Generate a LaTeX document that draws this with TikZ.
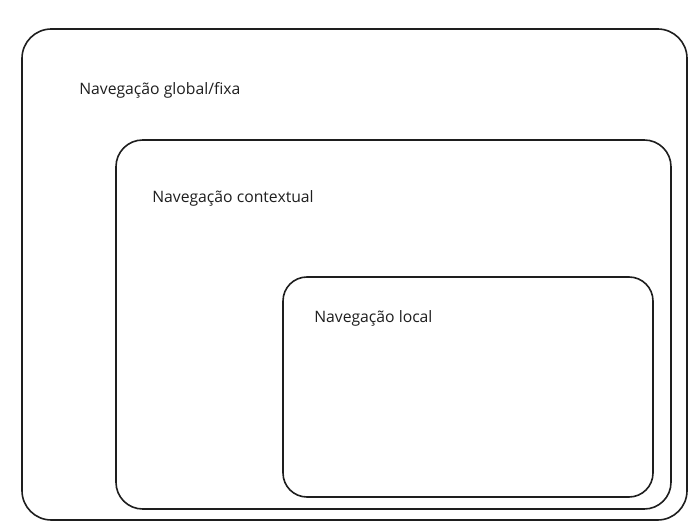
\documentclass[tikz,border=0pt]{standalone}
\usepackage{fontspec}
\setmainfont{Open Sans}
\definecolor{traco}{HTML}{1E1E1E}

\begin{document}
\begin{tikzpicture}[x=0.75pt,y=-0.75pt,
		caixa/.style={draw=traco,line width=1.2pt},
		rotulo/.style={anchor=base west,inner sep=0pt,text=traco,font=\fontsize{11.8}{14}\selectfont}]
		\useasboundingbox (0,0) rectangle (699,530);
		
		\draw[caixa,rounded corners=22] (22,29) rectangle (687,520);
		\draw[caixa,rounded corners=20] (116,140) rectangle (671,509);
		\draw[caixa,rounded corners=18] (283,277) rectangle (653,497);
		
		\node[rotulo] (global) at (79,95) {Navegação global/fixa};
		\node[rotulo] (contextual) at (152,203) {Navegação contextual};
		\node[rotulo] (local) at (314,323) {Navegação local};
	\end{tikzpicture}
\end{document}
